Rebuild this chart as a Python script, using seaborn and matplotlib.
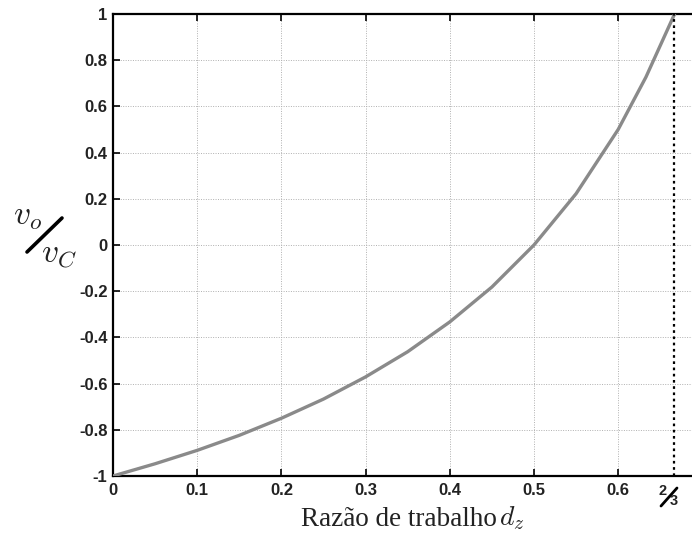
import matplotlib
matplotlib.use("Agg")
import matplotlib.pyplot as plt
import seaborn as sns
import pandas as pd

# data
duty = [0.0, 0.05, 0.1, 0.15, 0.2, 0.25, 0.3, 0.35, 0.4, 0.45, 0.5, 0.55, 0.6, 0.633, 0.667]
ratio = [-1.0, -0.947, -0.889, -0.824, -0.75, -0.667, -0.571, -0.462, -0.333, -0.182, 0.0, 0.222, 0.5, 0.727, 1.0]
xticks = [0, 0.1, 0.2, 0.3, 0.4, 0.5, 0.6]
xticklabels = ["0", "0.1", "0.2", "0.3", "0.4", "0.5", "0.6"]
yticks = [-1, -0.8, -0.6, -0.4, -0.2, 0, 0.2, 0.4, 0.6, 0.8, 1]
yticklabels = ["-1", "-0.8", "-0.6", "-0.4", "-0.2", "0", "0.2", "0.4", "0.6", "0.8", "1"]
limit_x = 2 / 3

sns.set_theme(style="white")
plt.rcParams["font.family"] = ["Liberation Sans", "DejaVu Sans"]
plt.rcParams["mathtext.fontset"] = "cm"

W, H = 692, 534
fig = plt.figure(figsize=(W / 100, H / 100), dpi=100)
ax = fig.add_axes([113 / W, 1 - 476 / H, 1 - 113 / W, (476 - 14) / H])


def fx(px):
    return px / W


def fy(py):
    return 1 - py / H


df = pd.DataFrame({"d": duty, "r": ratio})
sns.lineplot(data=df, x="d", y="r", ax=ax, color="#8a8a8a", linewidth=2.4, zorder=3)

ax.set_xlim(0, 0.6877)
ax.set_ylim(-1, 1)
ax.set_xticks(xticks)
ax.set_xticklabels(xticklabels)
ax.set_yticks(yticks)
ax.set_yticklabels(yticklabels)
ax.grid(True, color="#b0b0b0", linestyle=(0, (1, 1.5)), linewidth=0.7)
ax.axvline(limit_x, color="black", linestyle=(0, (1.2, 1.6)), linewidth=1.6, zorder=4)

for s in ["left", "bottom", "top"]:
    ax.spines[s].set_visible(True)
    ax.spines[s].set_color("black")
    ax.spines[s].set_linewidth(1.6)
ax.spines["right"].set_visible(False)

ax.tick_params(axis="both", direction="in", length=5, width=1.2, color="black",
               labelsize=12, labelcolor="#222222", top=True, bottom=True, left=True)
ax.tick_params(axis="x", pad=5)
ax.tick_params(axis="y", pad=4)
for lab in ax.get_xticklabels() + ax.get_yticklabels():
    lab.set_fontweight("bold")

ax.set_xlabel("")
ax.set_ylabel("")

# 2/3 tick label
fig.text(fx(663), fy(491), "2", fontsize=10.5, fontweight="bold", ha="center", va="center", color="#222222")
fig.text(fx(674), fy(501), "3", fontsize=10.5, fontweight="bold", ha="center", va="center", color="#222222")
fig.add_artist(plt.Line2D([fx(661), fx(677)], [fy(506), fy(488)],
                          transform=fig.transFigure, color="black", linewidth=2.0))

# x label
fig.text(fx(497), fy(519), "Razão de trabalho", family="Liberation Serif",
         fontsize=19.5, ha="right", va="center", color="#222222")
fig.text(fx(512), fy(518), r"$d_z$", fontsize=20, ha="center", va="center", color="#222222")

# y label: v_o / v_C
fig.text(fx(28), fy(217), r"$v_o$", fontsize=24, ha="center", va="center", color="#222222")
fig.text(fx(59), fy(255), r"$v_C$", fontsize=24, ha="center", va="center", color="#222222")
fig.add_artist(plt.Line2D([fx(27), fx(62)], [fy(252), fy(218)],
                          transform=fig.transFigure, color="black", linewidth=2.6))

fig.savefig("out.png", dpi=100)
